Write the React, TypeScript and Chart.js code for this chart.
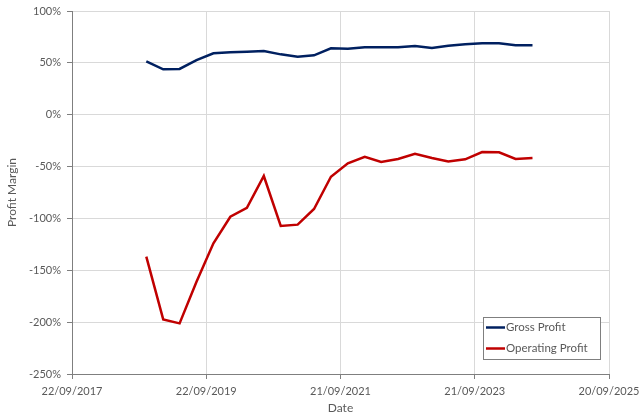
import React, { useEffect, useRef } from "react";
import { Chart, registerables } from "chart.js";
Chart.register(...registerables);

const dates = [
  "2018-10-31", "2019-01-31", "2019-04-30", "2019-07-31", "2019-10-31", "2020-01-31",
  "2020-04-30", "2020-07-31", "2020-10-31", "2021-01-31", "2021-04-30", "2021-07-31",
  "2021-10-31", "2022-01-31", "2022-04-30", "2022-07-31", "2022-10-31", "2023-01-31",
  "2023-04-30", "2023-07-31", "2023-10-31", "2024-01-31", "2024-04-30", "2024-07-31",
];
const grossProfit = [
  51.5, 43.8, 44.1, 52.7, 59.2, 60.2, 60.8, 61.4, 58.2, 56.0, 57.3, 64.0,
  63.5, 65.0, 65.0, 65.0, 66.2, 64.3, 66.5, 67.9, 68.8, 68.8, 66.9, 66.9,
];
const operatingProfit = [
  -136.9, -197.3, -201.2, -161.0, -124.0, -98.4, -89.7, -59.1, -107.3, -106.0, -90.9, -59.8,
  -46.9, -40.5, -45.6, -42.7, -37.6, -41.8, -45.0, -43.0, -36.0, -36.3, -42.7, -41.8,
];
const xTickDates = ["2017-09-22", "2019-09-22", "2021-09-21", "2023-09-21", "2025-09-20"];
const yTicks = [-250, -200, -150, -100, -50, 0, 50, 100];

const toDay = (s: string) => {
  const [y, m, d] = s.split("-").map(Number);
  return Date.UTC(y, m - 1, d) / 86400000;
};
const fmtDay = (v: number) => {
  const dt = new Date(Math.round(v) * 86400000);
  const dd = String(dt.getUTCDate()).padStart(2, "0");
  const mm = String(dt.getUTCMonth() + 1).padStart(2, "0");
  return `${dd}/${mm}/${dt.getUTCFullYear()}`;
};

const FONT = "Lato, 'Open Sans', sans-serif";
const TEXT = "#595959";

const insideLegend = {
  id: "insideLegend",
  afterDraw(chart: any) {
    const { ctx, chartArea } = chart;
    const w = 117, h = 42;
    const x = chartArea.right - 9 - w;
    const y = chartArea.bottom - 15 - h;
    ctx.save();
    ctx.fillStyle = "#ffffff";
    ctx.fillRect(x, y, w, h);
    ctx.strokeStyle = "#7f7f7f";
    ctx.lineWidth = 1;
    ctx.strokeRect(Math.round(x) + 0.5, Math.round(y) + 0.5, w, h);
    chart.data.datasets.forEach((ds: any, i: number) => {
      const cy = y + 10.5 + i * 21;
      ctx.strokeStyle = ds.borderColor;
      ctx.lineWidth = 2.5;
      ctx.beginPath();
      ctx.moveTo(x + 3, cy);
      ctx.lineTo(x + 22, cy);
      ctx.stroke();
      ctx.fillStyle = TEXT;
      ctx.font = `11.5px ${FONT}`;
      ctx.textBaseline = "middle";
      ctx.textAlign = "left";
      ctx.fillText(ds.label, x + 23, cy);
    });
    ctx.restore();
  },
};

export default function App() {
  const ref = useRef<HTMLCanvasElement | null>(null);
  useEffect(() => {
    if (!ref.current) return;
    const xs = dates.map(toDay);
    const xt = xTickDates.map(toDay);
    const chart = new Chart(ref.current, {
      type: "line",
      data: {
        datasets: [
          {
            label: "Gross Profit",
            data: xs.map((x, i) => ({ x, y: grossProfit[i] })),
            borderColor: "#002060",
            backgroundColor: "#002060",
            borderWidth: 2.5,
            pointRadius: 0,
            tension: 0,
          },
          {
            label: "Operating Profit",
            data: xs.map((x, i) => ({ x, y: operatingProfit[i] })),
            borderColor: "#c00000",
            backgroundColor: "#c00000",
            borderWidth: 2.5,
            pointRadius: 0,
            tension: 0,
          },
        ],
      },
      options: {
        animation: false,
        responsive: true,
        maintainAspectRatio: false,
        layout: { padding: { top: 11, right: 31, left: 0, bottom: 0 } },
        plugins: { legend: { display: false }, tooltip: { enabled: false } },
        scales: {
          x: {
            type: "linear",
            min: xt[0],
            max: xt[xt.length - 1],
            afterBuildTicks: (s: any) => {
              s.ticks = xt.map((v) => ({ value: v }));
            },
            afterFit: (s: any) => {
              s.height = 44;
              s.paddingLeft = 0;
              s.paddingRight = 0;
            },
            ticks: {
              callback: (v: any) => fmtDay(Number(v)),
              maxRotation: 0,
              autoSkip: false,
              font: { family: FONT, size: 11 },
              color: TEXT,
              padding: 6,
            },
            grid: { color: "#d9d9d9", tickColor: "#7f7f7f", tickLength: 5 },
            border: { color: "#7f7f7f", width: 1 },
            title: {
              display: true,
              text: "Date",
              font: { family: FONT, size: 12 },
              color: TEXT,
              padding: { top: 0, bottom: 3 },
            },
          },
          y: {
            type: "linear",
            min: -250,
            max: 100,
            afterBuildTicks: (s: any) => {
              s.ticks = yTicks.map((v) => ({ value: v }));
            },
            afterFit: (s: any) => {
              s.width = 72;
              s.paddingTop = 0;
              s.paddingBottom = 0;
            },
            ticks: {
              callback: (v: any) => `${v}%`,
              font: { family: FONT, size: 11 },
              color: TEXT,
              padding: 6,
            },
            grid: { color: "#d9d9d9", tickColor: "#7f7f7f", tickLength: 5 },
            border: { color: "#7f7f7f", width: 1 },
            title: {
              display: true,
              text: "Profit Margin",
              font: { family: FONT, size: 12 },
              color: TEXT,
              padding: { top: 5, bottom: 0 },
            },
          },
        },
      },
      plugins: [insideLegend],
    } as any);
    return () => chart.destroy();
  }, []);
  return (
    <div style={{ position: "fixed", left: 0, top: 0, width: 640, height: 418, background: "#fff" }}>
      <canvas ref={ref} />
    </div>
  );
}
